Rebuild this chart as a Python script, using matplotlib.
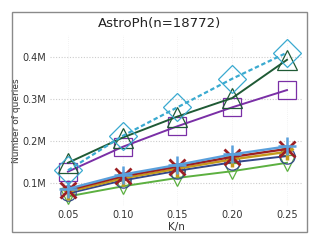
import matplotlib.pyplot as plt
from matplotlib.patches import Rectangle
from matplotlib.ticker import FuncFormatter

# data (number of queries, in millions)
k_ratio = [0.05, 0.10, 0.15, 0.20, 0.25]

diamond_vals = [0.130, 0.212, 0.280, 0.348, 0.410]
triangle_vals = [0.148, 0.208, 0.258, 0.302, 0.393]
square_vals = [0.127, 0.186, 0.235, 0.280, 0.321]

plus_vals = [0.086, 0.120, 0.143, 0.168, 0.187]
cross_vals = [0.083, 0.116, 0.139, 0.162, 0.181]
tri_vals = [0.079, 0.111, 0.134, 0.156, 0.174]
circle_vals = [0.075, 0.106, 0.129, 0.149, 0.164]
vtri_vals = [0.068, 0.092, 0.112, 0.128, 0.148]

fig = plt.figure(figsize=(3.19, 2.45), dpi=100)
# axes spans px 50..302 horizontally, 35..206 vertically
ax = fig.add_axes([50 / 319, 39 / 245, 252 / 319, 171 / 245])

# figure border
fig.patches.append(Rectangle((12 / 319, 13 / 245), 295 / 319, 220 / 245,
                             transform=fig.transFigure, fill=False,
                             edgecolor="#8a8a8a", linewidth=1.0))

ax.plot(k_ratio, vtri_vals, color="#5cb040", marker="v", markersize=11,
        markerfacecolor="none", markeredgewidth=0.9, linewidth=1.4)
ax.plot(k_ratio, circle_vals, color="#34478a", marker="o", markersize=11,
        markerfacecolor="none", markeredgewidth=0.9, linewidth=1.4)
ax.plot(k_ratio, tri_vals, color="#c49a1c", marker="1", markersize=11,
        markeredgewidth=2.5, linewidth=1.7)
ax.plot(k_ratio, cross_vals, color="#9c1f24", marker="x", markersize=12,
        markeredgewidth=2.0, linewidth=1.7)
ax.plot(k_ratio, plus_vals, color="#5aa0dc", marker="+", markersize=13,
        markeredgewidth=1.8, linewidth=1.7)

ax.plot(k_ratio, square_vals, color="#7a2fa6", marker="s", markersize=13,
        markerfacecolor="none", markeredgewidth=0.9, linewidth=1.4)
ax.plot(k_ratio, triangle_vals, color="#1f5a35", marker="^", markersize=14,
        markerfacecolor="none", markeredgewidth=0.9, linewidth=1.4)
ax.plot(k_ratio, diamond_vals, color="#3aaad0", marker="D", markersize=14,
        markerfacecolor="none", markeredgewidth=0.9, linewidth=1.6,
        linestyle=(0, (2, 1.2)))

ax.set_xlim(0.0336, 0.2637)
ax.set_ylim(0.0452, 0.452)
ax.set_xticks(k_ratio)
ax.set_xticklabels([f"{v:.2f}" for v in k_ratio])
ax.set_yticks([0.1, 0.2, 0.3, 0.4])
ax.yaxis.set_major_formatter(FuncFormatter(lambda v, p: f"{v:.1f}M"))

for s in ax.spines.values():
    s.set_visible(False)
ax.tick_params(length=0, labelsize=7, colors="#333333", pad=3)
ax.grid(axis="y", linestyle=(0, (1, 1.5)), color="#cccccc", linewidth=0.8)
ax.grid(axis="x", linestyle=(0, (1, 1.5)), color="#efefef", linewidth=0.6)
ax.set_axisbelow(True)

ax.set_xlabel("K/n", fontsize=7.5, labelpad=1, color="#333333")
ax.set_ylabel("Number of queries", fontsize=6.5, labelpad=1, color="#333333")
fig.text(0.5, 0.905, "AstroPh(n=18772)", ha="center", va="center",
         fontsize=9.5, color="#222222")

fig.savefig("out.png", dpi=100)
